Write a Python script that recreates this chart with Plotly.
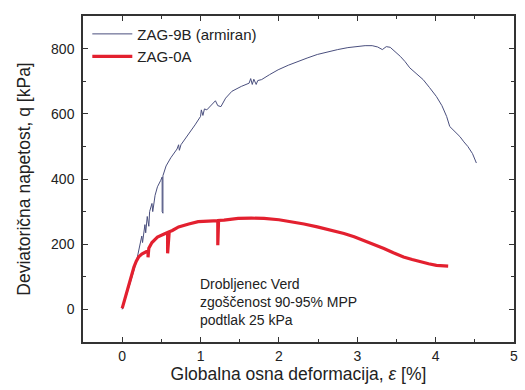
import plotly.graph_objects as go

# ZAG-9B (armiran): deformation [%] and deviatoric stress [kPa]
eps_9b = [0.00, 0.06, 0.12, 0.18, 0.22, 0.25, 0.26, 0.29, 0.30, 0.32, 0.34, 0.35,
          0.38, 0.39, 0.42, 0.45, 0.49, 0.51, 0.51, 0.52, 0.52, 0.56, 0.62,
          0.70, 0.72, 0.73, 0.75, 0.78, 0.85, 0.93, 1.00, 1.01, 1.03, 1.05,
          1.08, 1.14, 1.19, 1.22, 1.26, 1.32, 1.40, 1.52, 1.62, 1.64, 1.66,
          1.68, 1.71, 1.73, 1.78, 1.88, 1.99, 2.12, 2.24, 2.36, 2.49, 2.62,
          2.75, 2.88, 3.00, 3.10, 3.19, 3.26, 3.32, 3.37, 3.42, 3.48, 3.55,
          3.61, 3.67, 3.75, 3.84, 3.92, 4.01, 4.08, 4.14, 4.18, 4.24, 4.31,
          4.36, 4.41, 4.47, 4.52]
q_9b = [0, 45, 95, 145, 190, 225, 205, 260, 235, 285, 255, 300,
        325, 300, 350, 376, 395, 406, 300, 295, 410, 440, 465,
        492, 505, 488, 505, 515, 541, 566, 592, 612, 595, 615,
        612, 628, 640, 625, 622, 648, 669, 684, 694, 708, 690,
        706, 690, 702, 705, 720, 735, 749, 761, 771, 782, 790,
        797, 803, 807, 809, 809, 805, 797, 806, 804, 792, 776,
        760, 741, 724, 705, 681, 653, 625, 592, 561, 548, 530,
        514, 500, 478, 449]

# ZAG-0A: deformation [%] and deviatoric stress [kPa]
eps_0a = [0.00, 0.03, 0.06, 0.09, 0.12, 0.15, 0.18, 0.21, 0.25, 0.30, 0.33, 0.33,
          0.34, 0.38, 0.45, 0.55, 0.58, 0.58, 0.60, 0.64, 0.72, 0.85, 0.97,
          1.10, 1.22, 1.22, 1.23, 1.30, 1.48, 1.65, 1.81, 2.00, 2.16, 2.32,
          2.49, 2.66, 2.83, 2.96, 3.08, 3.21, 3.34, 3.46, 3.59, 3.70, 3.80,
          3.91, 4.01, 4.09, 4.16]
q_0a = [3, 30, 55, 80, 105, 130, 148, 161, 170, 176, 180, 160,
        188, 205, 222, 233, 236, 172, 238, 242, 253, 262, 269,
        271, 272, 197, 273, 274, 279, 280, 279, 275, 269, 262,
        253, 244, 233, 223, 212, 200, 187, 174, 161, 153, 146,
        140, 135, 134, 133]

note_lines = ["Drobljenec Verd", "zgoščenost 90-95% MPP", "podtlak 25 kPa"]

x_ticks = [0, 1, 2, 3, 4, 5]
y_ticks = [0, 200, 400, 600, 800]

font_family = "Liberation Sans, Arial, sans-serif"
text_color = "#222222"

fig = go.Figure()
fig.add_trace(go.Scatter(
    x=eps_9b, y=q_9b, mode="lines", name="ZAG-9B (armiran)",
    line=dict(color="#4a4f7e", width=1),
))
fig.add_trace(go.Scatter(
    x=eps_0a, y=q_0a, mode="lines", name="ZAG-0A",
    line=dict(color="#e3202f", width=3.2),
))

fig.add_annotation(
    x=0.97, y=108, xref="x", yref="y", xanchor="left", yanchor="top",
    text="<br>".join(note_lines), showarrow=False, align="left",
    font=dict(family=font_family, size=14, color=text_color),
)

axis_common = dict(
    showline=True, linecolor="#333333", linewidth=1.5, mirror="allticks",
    ticks="inside", ticklen=5, tickcolor="#333333", showgrid=False,
    zeroline=False, tickfont=dict(family=font_family, size=14, color=text_color),
)

fig.update_xaxes(
    range=[-0.5, 5], tickvals=x_ticks, ticktext=[str(v) for v in x_ticks],
    minor=dict(dtick=0.5, ticks="inside", ticklen=3, tickcolor="#333333"),
    title=dict(text="Globalna osna deformacija, <i>ε</i> [%]",
               font=dict(family=font_family, size=17.5, color=text_color),
               standoff=5),
    **axis_common,
)
fig.update_yaxes(
    range=[-100, 900], tickvals=y_ticks, ticktext=[str(v) for v in y_ticks],
    minor=dict(dtick=100, ticks="inside", ticklen=3, tickcolor="#333333"),
    ticklabelstandoff=4,
    title=dict(text="Deviatorična napetost, q [kPa]",
               font=dict(family=font_family, size=17.5, color=text_color),
               standoff=16),
    **axis_common,
)

fig.update_layout(
    width=525, height=390,
    margin=dict(l=83, r=7, t=16, b=48),
    paper_bgcolor="white", plot_bgcolor="white",
    showlegend=True,
    legend=dict(x=0.01, y=0.995, xanchor="left", yanchor="top",
                bgcolor="rgba(0,0,0,0)", borderwidth=0,
                font=dict(family=font_family, size=15, color=text_color),
                itemwidth=40, tracegroupgap=0),
)

fig.write_html("out.html")
